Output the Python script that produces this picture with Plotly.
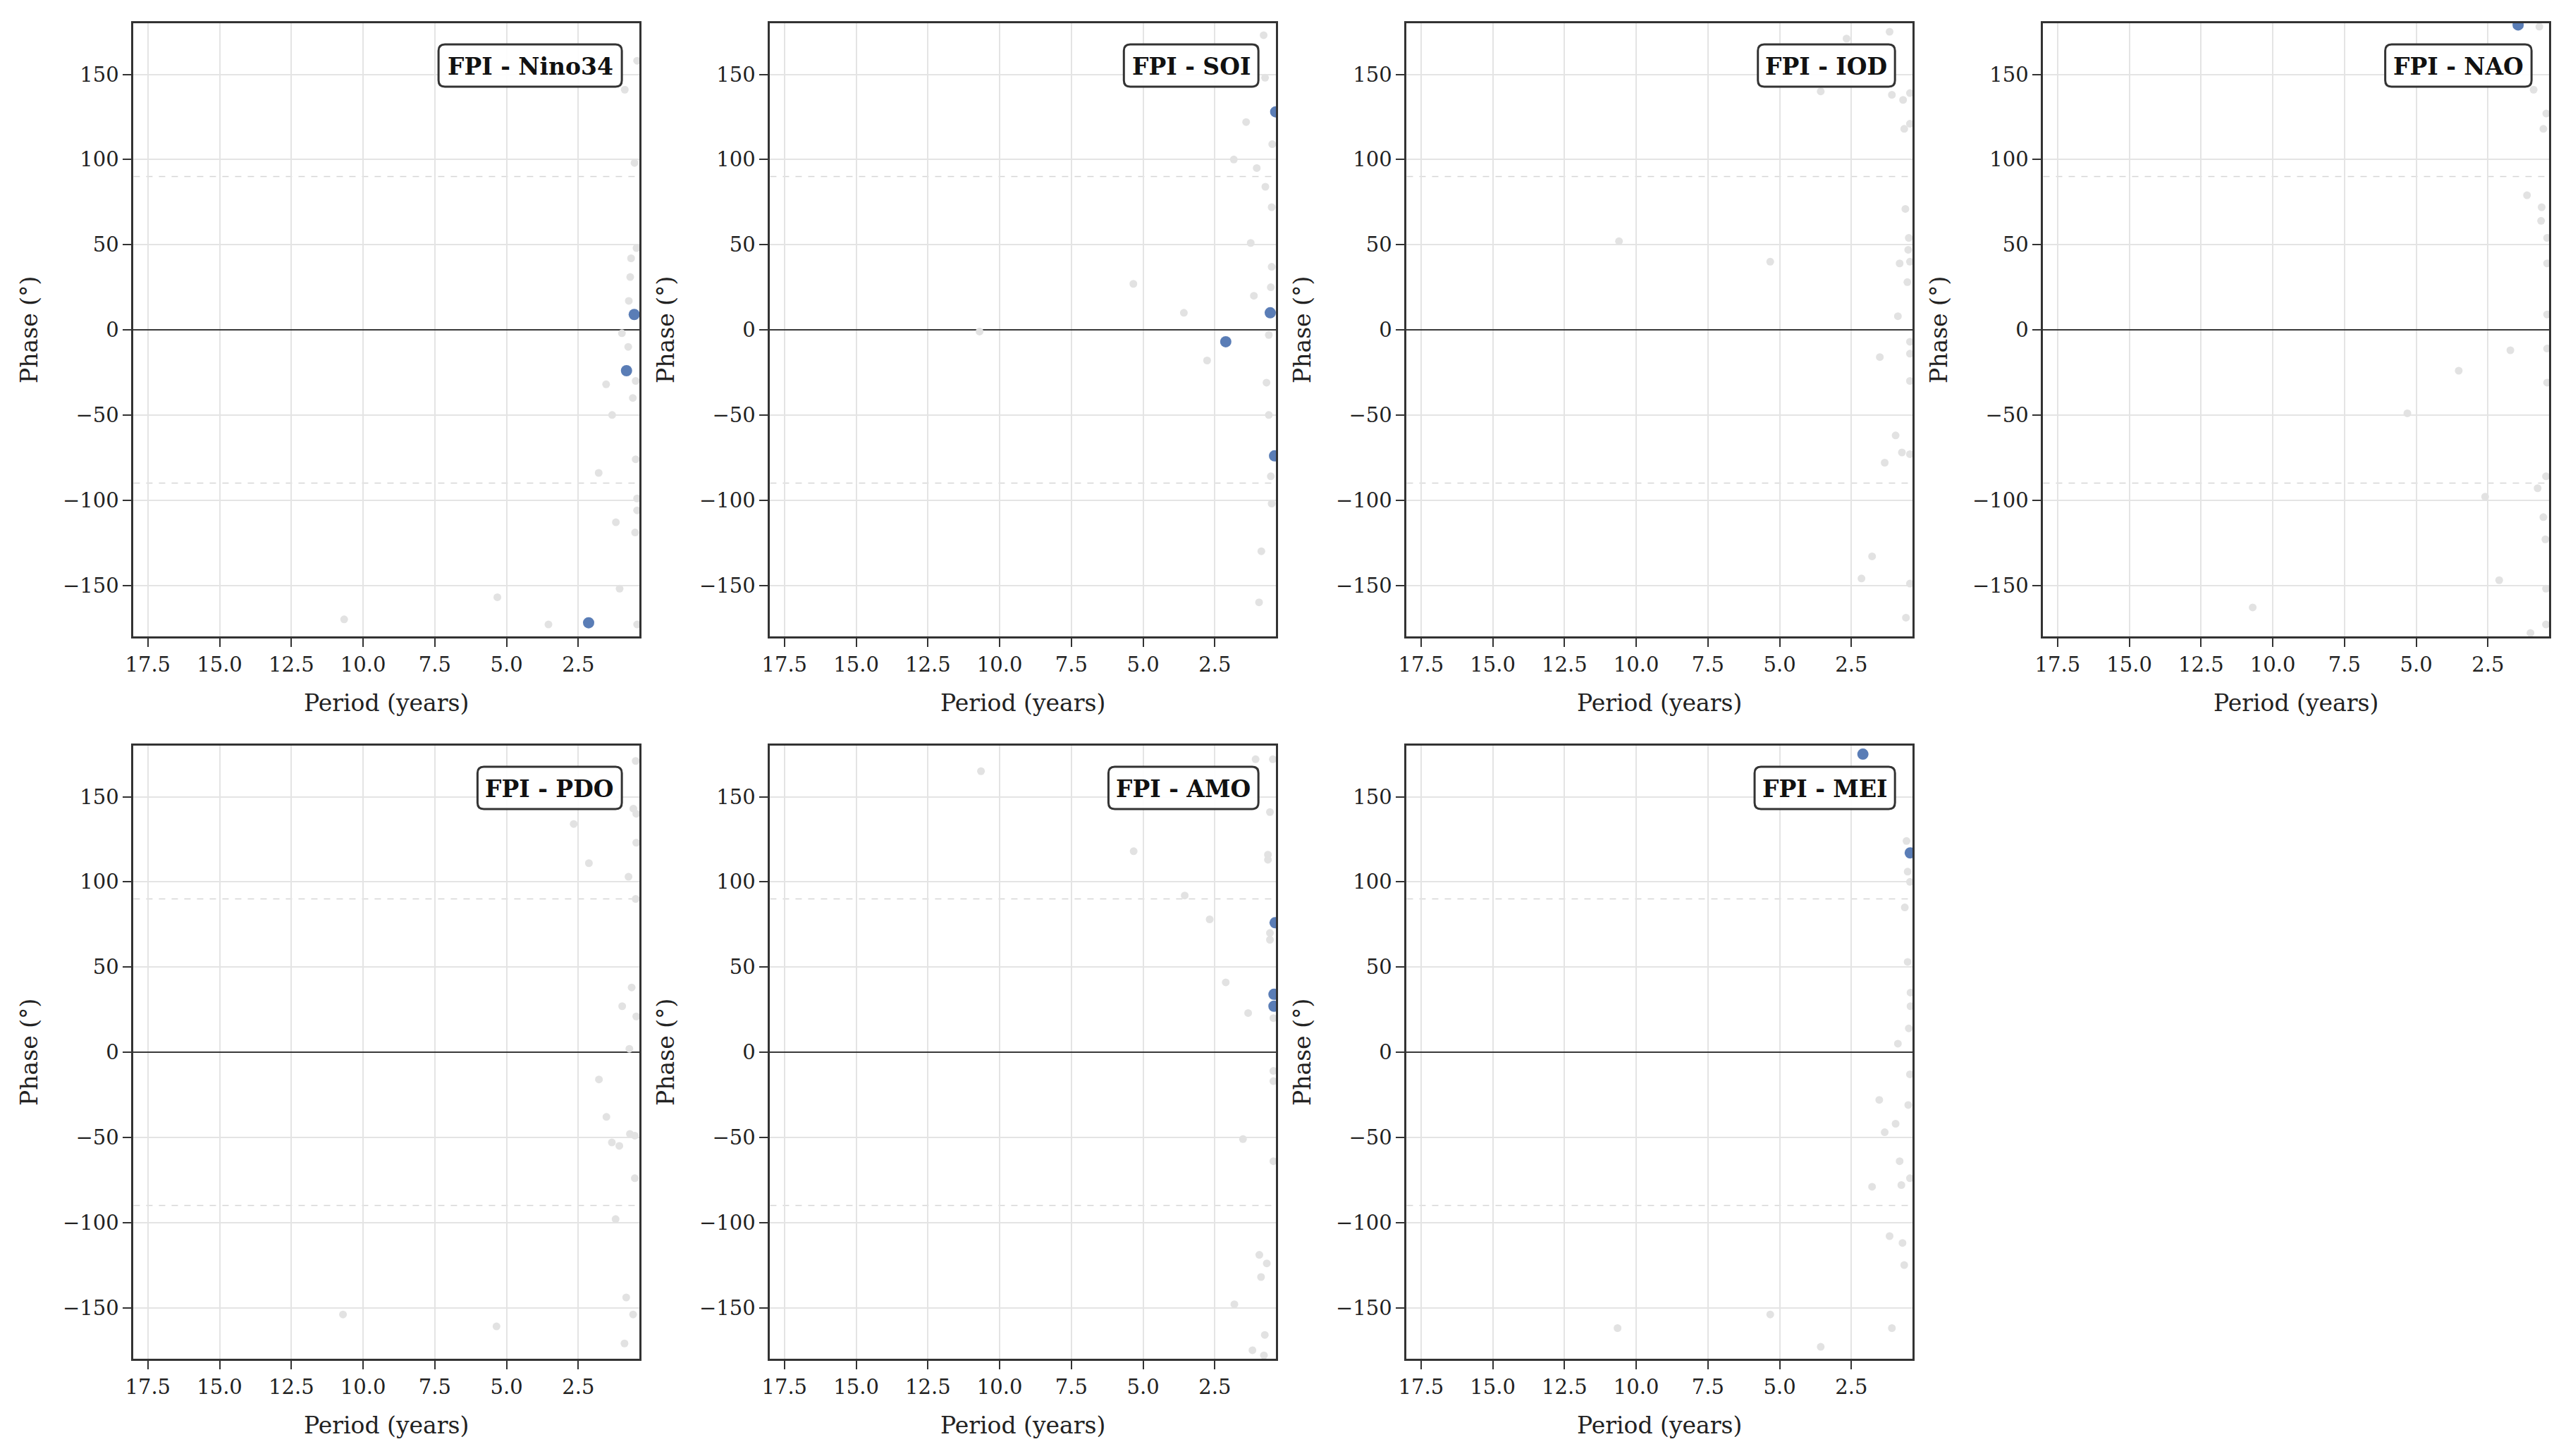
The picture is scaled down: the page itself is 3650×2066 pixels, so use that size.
import plotly.graph_objects as go

W, H = 3650, 2066

# ---------------- data ----------------
panel_titles = ["FPI - Nino34", "FPI - SOI", "FPI - IOD", "FPI - NAO",
                "FPI - PDO", "FPI - AMO", "FPI - MEI"]

x_ticks = [17.5, 15.0, 12.5, 10.0, 7.5, 5.0, 2.5]
y_ticks = [-150, -100, -50, 0, 50, 100, 150]

# Nino34
nino34_bg_period = [0.88, 0.54, 0.45, 0.47, 0.66, 0.69, 0.74, 0.98, 0.76, 0.50, 0.60, 1.53,
                    1.32, 1.79, 0.50, 0.45, 0.45, 1.19, 0.52, 1.06, 5.32, 3.54, 0.45, 10.66]
nino34_bg_phase = [141, 98, 158, 48, 42, 31, 17, -2, -10, -30, -40, -32,
                   -50, -84, -76, -99, -106, -113, -119, -152, -157, -173, -173, -170]
nino34_sig_period = [0.55, 0.82, 2.14]
nino34_sig_phase = [9, -24, -172]

# SOI
soi_bg_period = [0.80, 0.75, 1.41, 1.84, 1.04, 0.74, 0.52, 1.25, 0.52, 0.55, 1.14, 5.34,
                 3.58, 0.62, 2.77, 0.70, 0.62, 0.55, 0.52, 0.88, 0.96, 0.50, 10.7]
soi_bg_phase = [173, 148, 122, 100, 95, 84, 72, 51, 37, 25, 20, 27,
                10, -3, -18, -31, -50, -86, -102, -130, -160, 109, -1]
soi_sig_period = [0.38, 0.57, 2.12, 0.42]
soi_sig_phase = [128, 10, -7, -74]

# IOD
iod_bg_period = [1.17, 2.67, 3.57, 1.09, 0.70, 0.46, 0.66, 0.46, 0.62, 0.50, 0.52, 0.46,
                 0.82, 0.55, 0.88, 5.33, 0.46, 0.46, 1.51, 0.46, 0.96, 0.74, 0.46, 1.34,
                 1.78, 2.15, 0.60, 0.46, 10.6]
iod_bg_phase = [175, 171, 140, 138, 135, 139, 118, 121, 71, 54, 47, 40,
                39, 28, 8, 40, -7, -14, -16, -30, -62, -72, -73, -78,
                -133, -146, -169, -149, 52]
iod_sig_period = []
iod_sig_phase = []

# NAO
nao_bg_period = [0.71, 0.91, 0.47, 0.57, 1.14, 0.63, 0.65, 0.44, 0.44, 0.44, 1.72, 0.44,
                 3.52, 0.44, 5.31, 0.48, 0.77, 2.60, 0.57, 0.50, 0.48, 2.11, 0.48, 1.02, 10.7]
nao_bg_phase = [178, 141, 127, 118, 79, 72, 64, 54, 39, 9, -12, -11,
                -24, -31, -49, -86, -93, -98, -110, -123, -152, -147, -173, -178, -163]
nao_sig_period = [1.45]
nao_sig_phase = [179]

# PDO
pdo_bg_period = [0.50, 0.58, 0.48, 2.66, 2.13, 0.75, 0.50, 0.64, 0.97, 0.48, 0.72, 1.78,
                 1.52, 1.33, 1.07, 0.70, 0.53, 0.53, 1.20, 0.83, 0.59, 0.89, 5.35, 10.7, 0.48]
pdo_bg_phase = [171, 143, 140, 134, 111, 103, 90, 38, 27, 21, 2, -16,
                -38, -53, -55, -48, -49, -74, -98, -144, -154, -171, -161, -154, 123]
pdo_sig_period = []
pdo_sig_phase = []

# AMO
amo_bg_period = [1.08, 0.48, 0.58, 5.33, 0.65, 0.65, 3.55, 2.68, 0.58, 0.58, 2.12, 1.34,
                 0.46, 0.46, 0.46, 1.52, 0.46, 0.95, 0.69, 0.89, 1.82, 0.76, 1.19, 0.79, 10.65]
amo_bg_phase = [172, 172, 141, 118, 116, 113, 92, 78, 70, 66, 41, 23,
                20, -11, -17, -51, -64, -119, -124, -132, -148, -166, -175, -178, 165]
amo_sig_period = [0.40, 0.44, 0.44]
amo_sig_phase = [76, 34, 27]

# MEI
mei_bg_period = [0.58, 0.54, 0.46, 0.64, 0.54, 0.44, 0.44, 0.50, 0.88, 0.46, 1.53, 0.52,
                 0.96, 1.34, 0.82, 0.76, 1.78, 0.46, 1.17, 0.72, 0.66, 5.33, 3.57, 1.09, 10.65]
mei_bg_phase = [124, 106, 100, 85, 53, 35, 27, 14, 5, -13, -28, -31,
                -42, -47, -64, -78, -79, -74, -108, -112, -125, -154, -173, -162, -162]
mei_sig_period = [2.10, 0.45]
mei_sig_phase = [175, 117]

bg_periods = [nino34_bg_period, soi_bg_period, iod_bg_period, nao_bg_period,
              pdo_bg_period, amo_bg_period, mei_bg_period]
bg_phases = [nino34_bg_phase, soi_bg_phase, iod_bg_phase, nao_bg_phase,
             pdo_bg_phase, amo_bg_phase, mei_bg_phase]
sig_periods = [nino34_sig_period, soi_sig_period, iod_sig_period, nao_sig_period,
               pdo_sig_period, amo_sig_period, mei_sig_period]
sig_phases = [nino34_sig_phase, soi_sig_phase, iod_sig_phase, nao_sig_phase,
              pdo_sig_phase, amo_sig_phase, mei_sig_phase]

# ---------------- layout geometry (pixels) ----------------
col_left = [178, 1084, 1990, 2896]
ax_w = 720
row_top = [33, 1058]
ax_h = 870

FONT = "DejaVu Serif"
SPINE = "#333333"
GRID = "#e4e4e4"

# DejaVu Serif Bold advance widths (em)
bold_w = {"F": 0.727, "P": 0.733, "I": 0.421, " ": 0.348, "-": 0.416, "N": 0.873,
          "i": 0.421, "n": 0.711, "o": 0.667, "3": 0.696, "4": 0.696, "S": 0.720,
          "O": 0.820, "D": 0.830, "A": 0.776, "M": 1.030, "E": 0.762, "C": 0.759}


def px2x(px):
    return px / W


def px2y(py):
    return 1 - py / H


def rounded_path(x0, y0, x1, y1, r):
    X = px2x
    Y = px2y
    return (f"M {X(x0 + r)},{Y(y0)} L {X(x1 - r)},{Y(y0)} Q {X(x1)},{Y(y0)} {X(x1)},{Y(y0 + r)} "
            f"L {X(x1)},{Y(y1 - r)} Q {X(x1)},{Y(y1)} {X(x1 - r)},{Y(y1)} "
            f"L {X(x0 + r)},{Y(y1)} Q {X(x0)},{Y(y1)} {X(x0)},{Y(y1 - r)} "
            f"L {X(x0)},{Y(y0 + r)} Q {X(x0)},{Y(y0)} {X(x0 + r)},{Y(y0)} Z")


fig = go.Figure()
shapes = []
annotations = []
title_size = 33

for i, title in enumerate(panel_titles):
    n = i + 1
    r, c = divmod(i, 4)
    L = col_left[c]
    R = L + ax_w
    T = row_top[r]
    B = T + ax_h
    xa = "x" if n == 1 else f"x{n}"
    ya = "y" if n == 1 else f"y{n}"

    fig.add_trace(go.Scatter(
        x=bg_periods[i], y=bg_phases[i], mode="markers", xaxis=xa, yaxis=ya,
        marker=dict(size=11, color="#e2e2e2", line=dict(width=0)),
        showlegend=False, hoverinfo="x+y"))
    if sig_periods[i]:
        fig.add_trace(go.Scatter(
            x=sig_periods[i], y=sig_phases[i], mode="markers", xaxis=xa, yaxis=ya,
            marker=dict(size=16, color="rgba(76,114,176,0.92)", line=dict(width=0)),
            showlegend=False, hoverinfo="x+y"))

    axis_common = dict(
        showgrid=True, gridcolor=GRID, gridwidth=2,
        showline=True, linecolor=SPINE, linewidth=3, mirror=True,
        ticks="outside", ticklen=12, tickwidth=2, tickcolor=SPINE,
        tickfont=dict(family=FONT, size=29, color="#222222"),
    )
    fig.update_layout(**{
        ("xaxis" if n == 1 else f"xaxis{n}"): dict(
            domain=[px2x(L), px2x(R)], anchor=ya, range=[18.0, 0.37],
            tickvals=x_ticks, tickformat=".1f", zeroline=False, **axis_common),
        ("yaxis" if n == 1 else f"yaxis{n}"): dict(
            domain=[px2y(B), px2y(T)], anchor=xa, range=[-180, 180],
            tickvals=y_ticks, zeroline=True, zerolinecolor="#3a3a3a", zerolinewidth=2,
            **axis_common),
    })

    for yv in (90, -90):
        shapes.append(dict(type="line", xref=f"{xa} domain", yref=ya, x0=0, x1=1,
                           y0=yv, y1=yv, layer="below",
                           line=dict(color="#d6d6d6", width=1.5, dash="dash")))

    # title box
    tw = sum(bold_w.get(ch, 0.68) for ch in title) * title_size
    bw = tw + 28
    bx1 = R - 25
    bx0 = bx1 - bw
    by0 = T + 30
    by1 = by0 + 60
    shapes.append(dict(type="path", xref="paper", yref="paper",
                       path=rounded_path(bx0, by0, bx1, by1, 9),
                       fillcolor="rgba(255,255,255,0.92)",
                       line=dict(color=SPINE, width=3), layer="above"))
    annotations.append(dict(xref="paper", yref="paper",
                            x=px2x((bx0 + bx1) / 2), y=px2y((by0 + by1) / 2 + 1),
                            xanchor="center", yanchor="middle", showarrow=False,
                            text=f"<b>{title}</b>",
                            font=dict(family=FONT, size=title_size, color="#111111")))

    # axis titles
    annotations.append(dict(xref="paper", yref="paper",
                            x=px2x((L + R) / 2), y=px2y(B + 94),
                            xanchor="center", yanchor="middle", showarrow=False,
                            text="Period (years)",
                            font=dict(family=FONT, size=33, color="#222222")))
    annotations.append(dict(xref="paper", yref="paper",
                            x=px2x(L - 149), y=px2y((T + B) / 2),
                            xanchor="center", yanchor="middle", showarrow=False,
                            textangle=-90, text="Phase (°)",
                            font=dict(family=FONT, size=33, color="#222222")))

fig.update_layout(
    width=W, height=H,
    margin=dict(l=0, r=0, t=0, b=0),
    paper_bgcolor="white", plot_bgcolor="white",
    shapes=shapes, annotations=annotations,
    font=dict(family=FONT),
    showlegend=False,
)

fig.write_html("out.html")
